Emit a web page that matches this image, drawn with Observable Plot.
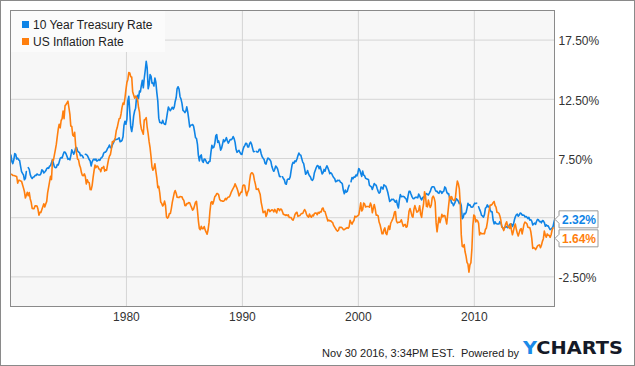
<!DOCTYPE html>
<html>
<head>
<meta charset="utf-8">
<script src="https://cdn.jsdelivr.net/npm/d3@7"></script>
<script src="https://cdn.jsdelivr.net/npm/@observablehq/plot@0.6"></script>
<style>
  body { margin: 0; background: #fff; }
  #chart svg { display: block; }
</style>
</head>
<body>
<div id="chart"></div>
<script>
// ---------------- DATA ----------------
const seriesNames = ["10 Year Treasury Rate", "US Inflation Rate"];
const startYear = 1970; // monthly values start January 1970

// 10 Year Treasury Rate, monthly, Jan 1970 .. Nov 2016 (null = gap in the line)
const treasuryRate = [
  7.79,7.24,7.07,7.39,7.91,7.84,7.46,7.53,7.39,7.33,6.84,6.39,
  6.24,6.11,5.70,5.83,6.39,null,6.73,6.58,6.14,5.93,5.81,5.93,
  5.95,6.08,6.07,6.19,6.13,6.11,6.11,6.21,6.55,6.48,6.28,6.36,
  6.46,6.64,6.71,6.67,6.85,6.90,7.13,7.40,7.09,6.79,6.73,6.74,
  6.99,6.96,7.21,7.51,7.58,7.54,7.81,8.04,8.04,7.90,7.68,7.43,
  7.50,7.39,7.73,8.23,8.06,7.86,8.06,8.40,8.43,8.14,8.05,8.00,
  7.74,7.79,7.73,7.56,null,7.86,7.83,7.77,7.59,7.41,7.29,6.87,
  7.21,7.39,7.46,7.37,7.46,7.28,7.33,7.40,7.34,7.52,7.58,7.69,
  7.96,8.03,8.04,8.15,8.35,8.46,8.64,8.41,8.42,8.64,8.81,9.01,
  9.10,9.10,9.12,9.18,9.25,8.91,8.95,9.03,9.33,10.30,10.65,10.39,
  10.80,12.41,12.75,11.47,10.18,9.78,10.25,11.10,11.51,11.75,12.68,12.84,
  12.57,13.19,13.12,13.68,14.10,13.47,14.28,14.94,15.70,15.15,13.39,13.72,
  14.59,14.43,13.86,13.87,13.62,14.30,13.95,13.06,12.34,10.91,10.55,10.54,
  10.46,10.72,10.51,10.40,10.38,10.85,11.38,11.85,11.65,11.54,11.69,11.83,
  11.67,11.84,12.32,12.63,13.41,13.56,13.36,12.72,12.52,12.16,11.57,11.50,
  11.38,11.51,11.86,11.43,10.85,10.16,10.31,10.33,10.37,10.24,9.78,9.26,
  9.19,8.70,7.78,7.30,7.71,7.80,7.30,7.17,7.45,7.43,7.25,7.11,
  7.08,7.25,7.25,8.02,8.61,8.40,8.45,8.76,9.42,9.52,8.86,8.99,
  8.67,8.21,8.37,8.72,9.09,8.92,9.06,9.26,8.98,8.80,8.96,9.11,
  9.09,9.17,9.36,9.18,8.86,8.28,8.02,8.11,8.19,8.01,7.87,7.84,
  8.21,8.47,8.59,8.79,8.76,8.48,8.47,8.75,8.89,8.72,8.39,8.08,
  8.09,null,8.11,8.04,8.07,8.28,8.27,7.90,7.65,7.53,7.42,7.09,
  7.03,7.34,7.54,7.48,7.39,7.26,6.84,6.59,6.42,6.59,6.87,6.77,
  6.60,6.26,5.98,5.97,null,5.96,5.81,5.68,5.36,5.33,5.72,5.77,
  5.75,5.97,6.48,6.97,7.18,7.10,7.30,7.24,7.46,7.74,7.96,7.81,
  7.78,7.47,7.20,7.06,6.63,6.17,6.28,6.49,6.20,6.04,5.93,5.71,
  5.65,5.81,6.27,6.51,6.74,6.91,6.87,6.64,6.83,6.53,6.20,6.30,
  6.58,6.42,6.69,6.89,6.71,6.49,6.22,6.30,6.21,6.03,5.88,5.81,
  5.54,5.57,5.65,5.64,5.65,5.50,5.46,5.34,4.81,4.53,4.83,4.65,
  4.72,5.00,5.23,null,5.54,5.90,5.79,5.94,5.92,6.11,6.03,6.28,
  6.66,6.52,6.26,5.99,6.44,6.10,6.05,5.83,5.80,5.74,5.72,5.24,
  5.16,5.10,4.89,5.14,5.39,5.28,5.24,4.97,4.73,4.57,4.65,5.09,
  5.04,4.91,5.28,5.21,5.16,4.93,4.65,4.26,3.87,3.94,4.05,4.03,
  4.05,3.90,3.81,3.96,3.57,3.33,3.98,4.45,4.27,4.29,4.30,4.27,
  4.15,4.08,3.83,4.35,4.72,4.73,4.50,4.28,4.13,4.10,4.19,4.23,
  4.22,4.17,4.50,4.34,4.14,4.00,4.18,4.26,4.20,4.46,4.54,4.47,
  4.42,4.57,4.72,4.99,5.11,5.11,5.09,4.88,4.72,4.73,4.60,4.56,
  4.76,4.72,4.56,4.69,4.75,5.10,5.00,4.67,4.52,4.53,4.15,4.10,
  3.74,3.74,3.51,3.68,3.88,4.10,4.01,3.89,3.69,3.81,3.53,2.42,
  2.52,2.87,2.82,2.93,3.29,3.72,3.56,3.59,3.40,3.39,3.40,3.59,
  3.73,3.69,3.73,null,3.42,3.20,3.01,2.70,2.65,2.54,2.76,3.29,
  3.39,3.58,3.41,3.46,3.17,3.00,3.00,2.30,1.98,2.15,2.01,1.98,
  1.97,1.97,2.17,2.05,1.80,1.62,1.53,1.68,1.72,1.75,1.65,1.72,
  1.91,1.98,1.96,1.76,1.93,2.30,2.58,2.74,2.81,2.62,2.72,2.90,
  2.86,2.71,2.72,2.71,2.56,2.60,2.54,2.42,2.53,2.30,2.33,2.21,
  1.88,1.98,2.04,1.94,2.20,2.36,2.32,2.17,2.17,2.07,2.26,2.24,
  2.09,1.78,1.89,1.81,1.81,1.64,1.50,1.56,1.63,1.76,2.32
];

// US Inflation Rate (CPI, year over year), monthly, Jan 1970 .. Oct 2016
const inflationRate = [
  6.18,6.15,6.06,6.06,6.04,6.01,5.98,5.41,5.66,5.65,5.60,5.57,
  5.29,5.00,4.71,4.16,4.40,4.64,4.36,4.62,4.08,3.80,3.28,3.27,
  3.27,3.51,3.50,3.49,3.23,2.71,2.95,2.94,3.19,3.42,3.67,3.41,
  3.65,3.88,4.59,5.06,5.53,5.99,5.72,7.38,7.36,7.80,8.25,8.71,
  9.39,10.02,10.39,10.09,10.71,10.86,11.51,10.86,11.95,12.06,12.20,12.34,
  11.80,11.23,10.25,10.21,9.47,9.39,9.72,8.60,7.91,7.44,7.38,6.94,
  6.72,6.29,6.07,6.05,6.20,5.97,5.35,5.71,5.49,5.46,4.88,4.86,
  5.21,5.91,6.44,6.95,6.73,6.87,6.83,6.62,6.60,6.39,6.72,6.70,
  6.84,6.43,6.55,6.50,6.97,7.41,7.70,7.84,8.31,8.93,8.89,9.02,
  9.28,9.86,10.09,10.49,10.85,10.89,11.26,11.82,12.18,12.07,12.61,13.29,
  13.91,14.18,14.76,14.73,14.41,14.38,13.13,12.87,12.60,12.77,12.65,12.52,
  11.83,11.41,10.49,10.00,9.78,9.55,10.76,10.80,10.95,10.14,9.59,8.92,
  8.39,7.62,6.78,6.51,6.68,7.06,6.44,5.85,5.04,5.14,4.59,3.83,
  3.71,3.49,3.60,3.90,3.55,2.58,2.46,2.56,2.86,2.85,3.27,3.79,
  4.19,4.60,4.80,4.56,4.23,4.22,4.20,4.29,4.27,4.26,4.05,3.95,
  3.53,3.52,3.70,3.69,3.77,3.76,3.55,3.35,3.14,3.23,3.51,3.80,
  3.89,3.11,2.26,1.59,1.49,1.77,1.58,1.57,1.75,1.47,1.28,1.10,
  1.46,2.10,3.03,3.78,3.86,3.65,3.93,4.28,4.36,4.53,4.53,4.43,
  4.05,3.94,3.93,3.90,3.89,3.96,4.13,4.02,4.17,4.25,4.25,4.42,
  4.67,4.83,4.98,5.12,5.36,5.17,4.98,4.71,4.34,4.49,4.66,4.65,
  5.20,5.26,5.23,4.71,4.36,4.67,4.82,5.62,6.16,6.29,6.27,6.11,
  5.65,5.31,4.90,4.89,4.95,4.70,4.45,3.80,3.39,2.92,2.99,3.06,
  2.60,2.82,3.19,3.18,3.02,3.09,3.16,3.15,2.99,3.20,3.05,2.90,
  3.26,3.25,3.09,3.23,3.22,3.00,2.78,2.77,2.69,2.75,2.68,2.75,
  2.52,2.52,2.51,2.36,2.29,2.49,2.77,2.90,2.96,2.61,2.67,2.67,
  2.80,2.86,2.85,3.05,3.19,3.04,2.76,2.62,2.54,2.81,2.61,2.54,
  2.73,2.65,2.84,2.90,2.89,2.75,2.95,2.88,3.00,2.99,3.26,3.32,
  3.04,3.03,2.76,2.50,2.23,2.30,2.23,2.23,2.15,2.08,1.83,1.70,
  1.57,1.44,1.37,1.44,1.69,1.68,1.68,1.62,1.49,1.49,1.55,1.61,
  1.67,1.61,1.73,2.28,2.09,1.96,2.14,2.26,2.63,2.56,2.62,2.68,
  2.74,3.22,3.76,3.07,3.19,3.73,3.66,3.41,3.45,3.45,3.45,3.39,
  3.73,3.53,2.92,3.27,3.62,3.25,2.72,2.72,2.65,2.13,1.90,1.55,
  1.14,1.14,1.48,1.64,1.18,1.07,1.46,1.80,1.51,2.03,2.20,2.38,
  2.60,2.98,3.02,2.22,2.06,2.11,2.11,2.16,2.32,2.04,1.77,1.88,
  1.93,1.69,1.74,2.29,3.05,3.27,2.99,2.65,2.54,3.19,3.52,3.26,
  2.97,3.01,3.15,3.51,2.80,2.53,3.17,3.64,4.69,4.35,3.46,3.42,
  3.99,3.60,3.36,3.55,4.17,4.32,4.15,3.82,2.06,1.31,1.97,2.54,
  2.08,2.42,2.78,2.57,2.69,2.69,2.36,1.97,2.76,3.54,4.31,4.08,
  4.28,4.03,3.98,3.94,4.18,5.02,5.60,5.37,4.94,3.66,1.07,0.09,
  0.03,0.24,-0.38,-0.74,-1.28,-1.43,-2.10,-1.48,-1.29,-0.18,1.84,2.72,
  2.63,2.14,2.31,2.24,2.02,1.05,1.24,1.15,1.14,1.17,1.14,1.50,
  1.63,2.11,2.68,3.16,3.57,3.56,3.63,3.77,3.87,3.53,3.39,2.96,
  2.93,2.87,2.65,2.30,1.70,1.66,1.41,1.69,1.99,2.16,1.76,1.74,
  1.59,1.98,1.47,1.06,1.36,1.75,1.96,1.52,1.18,0.96,1.24,1.50,
  1.58,1.13,1.51,1.95,2.13,2.07,1.99,1.70,1.66,1.66,1.32,0.76,
  -0.09,-0.03,-0.07,-0.20,-0.04,0.12,0.17,0.20,-0.04,0.17,0.50,0.73,
  1.37,1.02,0.85,1.13,1.02,1.01,0.84,1.06,1.46,1.64
];

const yGridTicks = [-2.5, 2.5, 7.5, 12.5, 17.5];
const yLabelTicks = [-2.5, 7.5, 12.5, 17.5];
const xTickYears = [1980, 1990, 2000, 2010];
const footerText = "Nov 30 2016, 3:34PM EST.  Powered by";
const logoParts = ["Y", "CHARTS"];

// ---------------- BUILD ----------------
const blue = "#0f84e6";
const orange = "#ff7f0e";
const colors = [blue, orange];

function toRows(values, lastDay) {
  return values.map((v, i) => {
    const isLast = i === values.length - 1;
    const d = new Date(Date.UTC(startYear, i, isLast && lastDay ? lastDay : 15));
    return { date: d, value: v };
  });
}
const treasuryRows = toRows(treasuryRate, 30);
const inflationRows = toRows(inflationRate, null);
const xTicks = xTickYears.map(y => new Date(Date.UTC(y, 0, 1)));

const chart = Plot.plot({
  width: 635,
  height: 366,
  marginLeft: 10,
  marginRight: 81,
  marginTop: 10,
  marginBottom: 60,
  style: { background: "#fff", fontFamily: "'Liberation Sans', Arial, sans-serif", fontSize: "12px", color: "#333", overflow: "visible" },
  x: { type: "utc", domain: [new Date(Date.UTC(1970, 0, 1)), new Date(Date.UTC(2016, 10, 30))], label: null },
  y: { domain: [-5, 20], label: null },
  marks: [
    Plot.frame({ fill: "#f7f7f7" }),
    Plot.gridY(yGridTicks, { stroke: "#d5d5d5", strokeOpacity: 1 }),
    Plot.gridX(xTicks, { stroke: "#d5d5d5", strokeOpacity: 1 }),
    Plot.axisY(yLabelTicks, { anchor: "right", tickSize: 0, tickPadding: 4, dy: 1.5, fill: "#333", fontSize: 12, tickFormat: d => d.toFixed(2) + "%" }),
    Plot.axisX(xTicks, { anchor: "bottom", tickSize: 0, tickPadding: 6, fill: "#333", fontSize: 12, tickFormat: d3.utcFormat("%Y") }),
    Plot.line(treasuryRows, { x: "date", y: "value", stroke: blue, strokeWidth: 1.6, curve: "linear" }),
    Plot.line(inflationRows, { x: "date", y: "value", stroke: orange, strokeWidth: 1.6, curve: "linear" }),
    Plot.frame({ stroke: "#8a8a8a", strokeWidth: 1 })
  ]
});

document.getElementById("chart").appendChild(chart);

const svg = d3.select(chart.tagName.toLowerCase() === "svg" ? chart : chart.querySelector("svg"));
const yScale = chart.scale("y");
const font = "'Liberation Sans', Arial, sans-serif";

// Outer border
svg.append("rect").attr("x", 0.5).attr("y", 0.5).attr("width", 634).attr("height", 365)
  .attr("fill", "none").attr("stroke", "#8a8a8a");

// Legend
const lg = svg.append("g").attr("text-anchor", "start");
lg.append("rect").attr("x", 11).attr("y", 11).attr("width", 154).attr("height", 41).attr("fill", "#fbfbfb");
seriesNames.forEach((name, i) => {
  const yTop = 21 + i * 17;
  lg.append("rect").attr("x", 22).attr("y", yTop).attr("width", 7).attr("height", 7).attr("fill", colors[i]);
  lg.append("text").attr("x", 33).attr("y", yTop + 7.5).attr("text-anchor", "start")
    .attr("font-family", font).attr("font-size", 12).attr("fill", "#222").text(name);
});

// End-value labels
const lastT = treasuryRate[treasuryRate.length - 1];
const lastI = inflationRate[inflationRate.length - 1];
const cyT = yScale.apply(lastT);
const cyI = Math.max(yScale.apply(lastI), cyT + 19);
[[lastT, cyT, blue], [lastI, cyI, orange]].forEach(([v, cy, c]) => {
  const g = svg.append("g");
  const x0 = 559, x1 = 598, h = 8.5;
  g.append("path")
    .attr("d", `M${x0},${cy - h}H${x1}V${cy + h}H${x0}V${cy + 4}L${x0 - 4},${cy}L${x0},${cy - 4}Z`)
    .attr("fill", "#fff").attr("stroke", "#9a9a9a").attr("stroke-width", 1);
  g.append("text").attr("x", 562).attr("y", cy + 4.5).attr("text-anchor", "start")
    .attr("font-family", font).attr("font-size", 12)
    .attr("font-weight", "bold").attr("fill", c).text(v.toFixed(2) + "%");
});

// Footer
svg.append("text").attr("x", 519).attr("y", 357).attr("text-anchor", "end")
  .attr("font-family", font).attr("font-size", 11).attr("fill", "#222")
  .style("white-space", "pre").text(footerText);
const logo = svg.append("text").attr("x", 523).attr("y", 354).attr("text-anchor", "start")
  .attr("font-family", "'DejaVu Sans', sans-serif").attr("font-size", 17).attr("font-weight", "bold")
  .attr("textLength", 100).attr("lengthAdjust", "spacingAndGlyphs");
logo.append("tspan").attr("fill", "#1a8ae8").text(logoParts[0]);
logo.append("tspan").attr("fill", "#151a28").text(logoParts[1]);
</script>
</body>
</html>
